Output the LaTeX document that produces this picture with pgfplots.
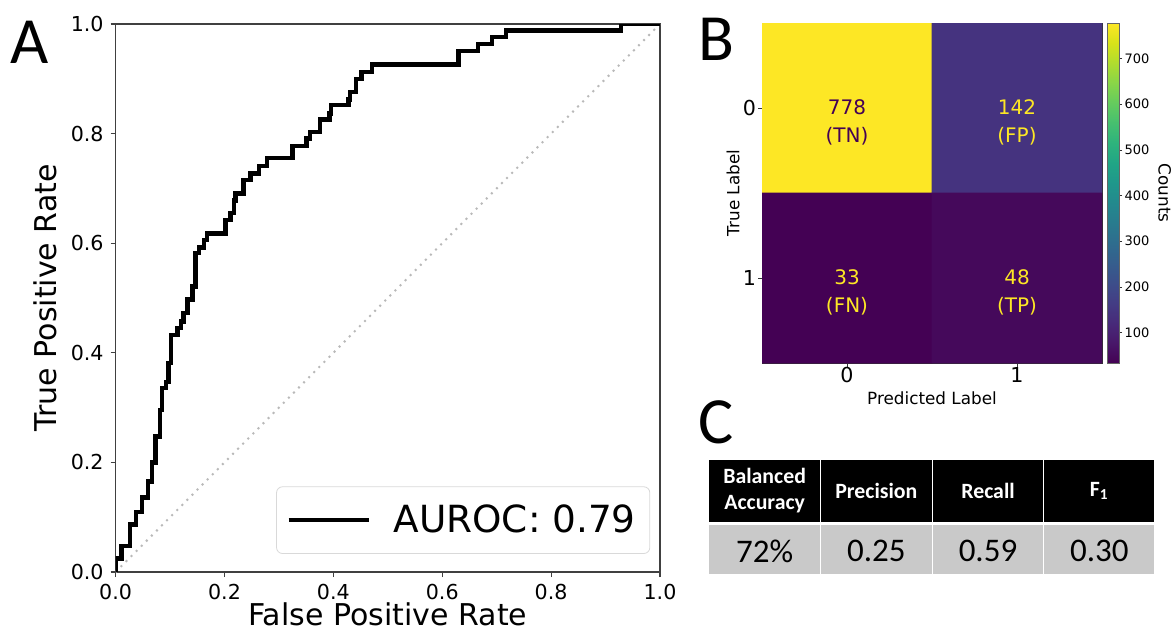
\documentclass[border=0pt]{standalone}
\usepackage{pgfplots}
\pgfplotsset{compat=1.18}
\usepackage{fontspec}
\setmainfont{DejaVu Sans}
\newfontfamily\calibri{Carlito}
\definecolor{vdark}{HTML}{440154}
\definecolor{vyellow}{HTML}{FDE725}
\definecolor{cellgray}{HTML}{C9C9C9}

\pgfplotstableread{
fpr tpr
0.000 0.000
0.000 0.025
0.011 0.048
0.026 0.087
0.038 0.110
0.049 0.136
0.060 0.165
0.067 0.200
0.073 0.247
0.082 0.296
0.085 0.336
0.093 0.347
0.097 0.381
0.102 0.432
0.114 0.445
0.120 0.457
0.125 0.473
0.132 0.497
0.141 0.521
0.147 0.582
0.153 0.592
0.162 0.606
0.168 0.618
0.202 0.642
0.211 0.655
0.217 0.678
0.220 0.691
0.235 0.715
0.248 0.727
0.263 0.741
0.278 0.755
0.325 0.777
0.351 0.791
0.357 0.803
0.376 0.826
0.393 0.837
0.396 0.852
0.428 0.862
0.431 0.876
0.442 0.900
0.452 0.912
0.471 0.926
0.630 0.951
0.666 0.963
0.691 0.976
0.717 0.988
0.928 1.000
1.000 1.000
}\roc

\pgfplotstableread{
x y c
0 0 778
1 0 142
0 1 33
1 1 48
}\confmat

\begin{document}
\begin{tikzpicture}
\path[use as bounding box] (0,0) rectangle (585.5pt,-316pt);

% A: ROC curve
\begin{axis}[
  at={(57.8pt,-286pt)}, anchor=south west,
  scale only axis, width=272.2pt, height=274pt,
  xmin=0, xmax=1, ymin=0, ymax=1,
  xtick={0,0.2,0.4,0.6,0.8,1.0}, ytick={0,0.2,0.4,0.6,0.8,1.0},
  tick align=outside, tick pos=left, major tick length=2.5pt,
  axis line style={black!75, line width=0.6pt},
  tick style={black!75, line width=0.6pt},
  ticklabel style={font=\fontsize{10.3}{12}\selectfont},
  /pgf/number format/assume math mode=true,
  /pgf/number format/fixed, /pgf/number format/fixed zerofill,
  /pgf/number format/precision=1,
  xlabel={False Positive Rate}, ylabel={True Positive Rate},
  label style={font=\fontsize{15}{18}\selectfont},
  xlabel style={at={(axis description cs:0.5,0)}, anchor=base, yshift=-26.5pt},
  legend style={at={(0.982,0.033)}, anchor=south east, draw=black!15,
    rounded corners=3pt, font=\fontsize{18.7}{22}\selectfont,
    inner xsep=5pt, inner ysep=7pt},
  legend cell align=left,
  legend image code/.code={\draw[black, line width=2pt] (0pt,0pt) -- (40pt,0pt);
    \path[draw=none] (0pt,0pt) -- (50.5pt,0pt);},
]
\addplot[gray!55, line width=1pt, dash pattern=on 1pt off 2.6pt, forget plot] coordinates {(0,0) (1,1)};
\addplot[black, line width=2.2pt, const plot mark left] table[x=fpr, y=tpr] {\roc};
\addlegendentry{AUROC: 0.79}
\end{axis}

% B: confusion matrix
\begin{axis}[
  at={(381pt,-181.5pt)}, anchor=south west,
  scale only axis, width=170pt, height=170pt,
  xmin=-0.5, xmax=1.5, ymin=-0.5, ymax=1.5, y dir=reverse,
  enlargelimits=false,
  xtick={0,1}, ytick={0,1},
  tick align=outside, tick pos=left, major tick length=2pt,
  axis line style={black!80, line width=0.4pt},
  tick style={black!80, line width=0.4pt},
  ticklabel style={font=\fontsize{10.3}{12}\selectfont},
  xticklabel style={yshift=3.5pt},
  yticklabel style={xshift=2.5pt},
  /pgf/number format/assume math mode=true,
  xlabel={Predicted Label}, ylabel={True Label},
  label style={font=\fontsize{8.4}{10}\selectfont},
  xlabel style={at={(axis description cs:0.5,-0.103)}, anchor=center},
  ylabel style={at={(axis description cs:-0.085,0.5)}, anchor=center},
  colormap/viridis,
  point meta min=33, point meta max=778,
  colorbar,
  colorbar shift/.style={},
  colorbar style={
    at={(parent axis.north east)}, anchor=north west, xshift=2.6pt,
    scale only axis, width=6pt, height=170pt,
    ytick={100,200,...,700}, ytick pos=right, yticklabel pos=right,
    tick align=outside, major tick length=1.5pt,
    axis line style={black!60, line width=0.3pt},
    tick style={black!80, line width=0.3pt},
    yticklabel style={font=\fontsize{6.5}{8}\selectfont, anchor=west, xshift=0pt, yshift=0pt, inner sep=1pt},
    /pgf/number format/assume math mode=true,
    ylabel={Counts},
    ylabel style={at={(axis description cs:4.8,0.5)}, anchor=center, rotate=180,
      font=\fontsize{8.4}{10}\selectfont},
  },
]
\addplot[matrix plot*, mesh/cols=2, point meta=explicit] table[x=x, y=y, meta=c] {\confmat};
\node[font=\fontsize{10}{12}\selectfont, text=vdark, anchor=base] at (axis cs:0,0.039) {778};
\node[font=\fontsize{10}{12}\selectfont, text=vdark, anchor=base] at (axis cs:0,0.205) {(TN)};
\node[font=\fontsize{10}{12}\selectfont, text=vyellow, anchor=base] at (axis cs:1,0.039) {142};
\node[font=\fontsize{10}{12}\selectfont, text=vyellow, anchor=base] at (axis cs:1,0.205) {(FP)};
\node[font=\fontsize{10}{12}\selectfont, text=vyellow, anchor=base] at (axis cs:0,1.039) {33};
\node[font=\fontsize{10}{12}\selectfont, text=vyellow, anchor=base] at (axis cs:0,1.205) {(FN)};
\node[font=\fontsize{10}{12}\selectfont, text=vyellow, anchor=base] at (axis cs:1,1.039) {48};
\node[font=\fontsize{10}{12}\selectfont, text=vyellow, anchor=base] at (axis cs:1,1.205) {(TP)};
\end{axis}

% panel letters and C: metrics table
\begin{scope}[x=0.5pt, y=-0.5pt]
\node[font=\calibri\fontsize{33}{36}\selectfont, anchor=base west, inner sep=0pt] at (10,63) {A};
\node[font=\calibri\fontsize{33}{36}\selectfont, anchor=base west, inner sep=0pt] at (698,60) {B};
\node[font=\calibri\fontsize{33}{36}\selectfont, anchor=base west, inner sep=0pt] at (698,443) {C};
\foreach \xa/\xb/\h/\v in {709.3/820/{Balanced\\Accuracy}/{72\%}, 821/931.7/{Precision}/{0.25}, 932.7/1043.3/{Recall}/{0.59}, 1044.3/1154.3/{F\textsubscript{1}}/{0.30}} {
  \fill[black] (\xa,460) rectangle (\xb,521.7);
  \fill[cellgray] (\xa,525) rectangle (\xb,574);
  \node[font=\calibri\bfseries\fontsize{10.9}{13}\selectfont, text=white, align=center, inner sep=0pt] at ({(\xa+\xb)/2},491) {\h};
  \node[font=\calibri\fontsize{16.5}{19}\selectfont, text=black, inner sep=0pt] at ({(\xa+\xb)/2},551) {\v};
}
\end{scope}
\end{tikzpicture}
\end{document}
